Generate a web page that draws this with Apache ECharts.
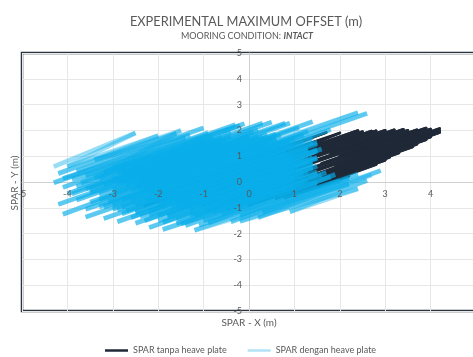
<!DOCTYPE html>
<html lang="en" style="height: 100%">
<head>
  <meta charset="utf-8">
</head>
<body style="height: 100%; margin: 0">
  <div id="container" style="width: 473px; height: 357px"></div>

  <script type="text/javascript" src="https://cdn.jsdelivr.net/npm/echarts@6/dist/echarts.min.js"></script>
  <script type="text/javascript">
    // tick labels on both axes
    var xTicks = [-5, -4, -3, -2, -1, 0, 1, 2, 3, 4, 5];
    var yTicks = [-5, -4, -3, -2, -1, 0, 1, 2, 3, 4, 5];

    var seriesNames = ['SPAR tanpa heave plate', 'SPAR dengan heave plate'];

    // SPAR tanpa heave plate, trajectory (x, y) in m
    var tanpaPath = [
      [-1.5, 0.0], [1.7, 1.92],
      [-2.0, -0.5], [2.0, 1.9],
      [0.8, 1.03], [2.4, 1.99],
      [-2.3, -0.93], [2.5, 1.95],
      [1.0, 0.95], [2.7, 1.97],
      [-1.3, -0.48], [2.8, 1.98],
      [1.5, 1.1], [3.0, 2.0],
      [-0.9, -0.44], [3.2, 2.02],
      [1.8, 1.08], [3.4, 2.04],
      [1.3, 0.73], [3.4, 1.99],
      [-1.2, -0.82], [3.5, 2.0],
      [2.0, 1.0], [3.7, 2.02],
      [1.6, 0.71], [3.9, 2.09],
      [-1.0, -0.9], [3.8, 1.98],
      [2.2, 0.97], [4.0, 2.05],
      [-0.6, -0.81], [4.2, 2.07],
      [2.4, 0.94], [4.15, 1.99],
      [1.9, 0.59], [4.2, 1.97],
      [0.0, -0.6], [4.2, 1.92],
      [2.6, 0.91], [4.0, 1.75],
      [1.5, 0.2], [3.9, 1.64],
      [0.2, -0.63], [3.7, 1.47],
      [2.4, 0.64], [3.6, 1.36],
      [1.2, -0.13], [3.3, 1.13],
      [0.0, -0.9], [3.1, 0.96],
      [2.0, 0.25], [3.0, 0.85],
      [0.6, -0.64], [2.8, 0.68],
      [0.8, -0.62], [2.2, 0.22]
    ];

    // SPAR dengan heave plate, trajectory (x, y) in m
    var denganPath = [
      [-4.3, 0.6], [-2.5, 1.9],
      [-4.0, 0.6], [-2.0, 1.8],
      [-4.2, 0.33], [-1.6, 1.89],
      [-3.8, 0.42], [-1.0, 2.1],
      [-4.3, -0.03], [-1.4, 1.71],
      [-3.6, 0.24], [-0.3, 2.22],
      [-4.1, -0.21], [-0.8, 1.77],
      [-3.3, 0.12], [0.3, 2.28],
      [-4.0, -0.45], [-0.5, 1.65],
      [-3.5, -0.3], [0.8, 2.28],
      [-4.2, -0.87], [0.2, 1.77],
      [-3.0, -0.3], [1.4, 2.34],
      [-4.1, -1.25], [0.5, 1.65],
      [-2.6, -0.31], [2.4, 2.69],
      [-3.6, -1.06], [1.2, 1.82],
      [-1.5, 0.2], [2.6, 2.66],
      [-3.2, -0.97], [1.8, 2.03],
      [-3.6, -1.36], [1.0, 1.4],
      [-2.9, -1.09], [1.5, 1.55],
      [-3.2, -1.42], [1.3, 1.28],
      [-2.5, -1.15], [1.5, 1.25],
      [-2.9, -1.54], [1.1, 0.86],
      [-2.2, -1.27], [1.5, 0.95],
      [-2.5, -1.6], [1.4, 0.74],
      [-1.8, -1.33], [1.4, 0.59],
      [-2.2, -1.77], [1.2, 0.27],
      [-1.6, -1.61], [1.7, 0.37],
      [-1.4, -1.69], [1.9, 0.29],
      [-0.9, -1.59], [2.4, 0.3],
      [-0.4, -1.54], [2.9, 0.44],
      [0.2, -1.38], [2.6, 0.06],
      [0.9, -1.16], [2.4, -0.26],
      [-0.2, -1.52], [2.2, -0.08],
      [-1.2, -1.87], [2.0, 0.05],
      [-1.0, -1.5], [1.5, 0.0],
      [-1.9, -1.84], [1.6, 0.26],
      [-1.3, -1.28], [1.5, 0.4],
      [-2.0, -1.5], [1.2, 0.42],
      [-1.5, -1.0], [1.4, 0.74],
      [-2.4, -1.34], [1.3, 0.88],
      [-2.0, -0.9], [1.5, 1.2],
      [-2.7, -1.12], [0.9, 1.04],
      [-2.3, -0.68], [1.4, 1.54],
      [-3.0, -0.9], [0.7, 1.32],
      [-2.4, -0.34], [1.0, 1.7],
      [-3.3, -0.68], [0.3, 1.48],
      [-2.7, -0.12], [0.6, 1.86],
      [-3.5, -0.4], [-0.2, 1.58],
      [-3.0, 0.1], [0.2, 2.02],
      [-3.8, -0.18], [-0.6, 1.74],
      [-3.2, 0.38], [-0.2, 2.18],
      [-4.1, 0.14], [-1.3, 1.82],
      [-3.4, 0.86], [-1.5, 2.0],
      [-3.4, 0.16], [-1.0, 1.6],
      [-2.8, 0.32], [-0.4, 1.76],
      [-3.2, -0.12], [0.0, 1.8],
      [-2.6, 0.04], [0.4, 1.84],
      [-3.0, -0.4], [0.7, 1.82],
      [-2.3, -0.18], [0.4, 1.44],
      [-2.8, -0.68], [0.9, 1.54],
      [-2.0, -0.4], [1.2, 1.52],
      [-2.5, -0.9], [0.8, 1.08],
      [-1.8, -0.68], [1.3, 1.18],
      [-2.2, -1.12], [1.0, 0.8],
      [-1.4, -0.84], [1.3, 0.78],
      [-1.8, -1.28], [0.9, 0.34],
      [-0.9, -0.94], [1.3, 0.38],
      [-1.2, -1.32], [0.9, -0.06],
      [-0.5, -1.1], [1.0, -0.2],
      [-0.8, -1.18], [1.2, 0.02],
      [-1.6, -1.46], [1.0, 0.1],
      [-1.0, -0.9], [1.4, 0.54],
      [-2.0, -1.3], [1.1, 0.56],
      [-1.6, -0.86], [1.4, 0.94],
      [-2.5, -1.2], [1.0, 0.9],
      [-2.0, -0.7], [1.3, 1.28],
      [-2.8, -0.98], [0.6, 1.06],
      [-2.2, -0.42], [1.0, 1.5],
      [-3.1, -0.76], [0.2, 1.22],
      [-2.5, -0.2], [0.6, 1.66],
      [-3.3, -0.48], [-0.2, 1.38],
      [-2.8, 0.02], [0.0, 1.7],
      [-3.6, -0.26], [-0.6, 1.54],
      [-2.9, 0.36], [-0.8, 1.62],
      [-3.9, 0.11], [-0.9, 1.91],
      [-3.0, 0.52], [-0.1, 2.26],
      [-3.7, -0.04], [-0.4, 1.94],
      [-2.5, 0.52], [0.5, 2.32],
      [-3.9, -0.46], [0.1, 1.94],
      [-2.9, 0.0], [0.9, 2.28],
      [-3.8, -0.7], [0.3, 1.76],
      [-2.4, 0.01], [1.1, 2.11],
      [-3.5, -0.78], [0.6, 1.68],
      [-2.1, -0.08], [1.3, 1.96],
      [-3.3, -0.96], [0.5, 1.32],
      [-2.6, -0.68], [1.4, 1.72],
      [-3.0, -1.06], [0.8, 1.22],
      [-2.2, -0.74], [1.5, 1.48],
      [-2.8, -1.23], [1.0, 1.05],
      [-1.9, -0.82], [1.6, 1.28],
      [-2.6, -1.38], [1.2, 0.9],
      [-1.7, -1.0], [1.5, 0.92],
      [-2.3, -1.5], [1.0, 0.48],
      [-1.3, -1.06], [1.5, 0.62],
      [-1.9, -1.56], [1.1, 0.24],
      [-0.9, -1.12], [1.5, 0.32],
      [-1.5, -1.62], [1.3, 0.06],
      [-0.6, -1.24], [1.8, 0.2],
      [-1.1, -1.68], [1.5, -0.12],
      [-0.2, -1.3], [2.2, 0.14],
      [0.3, -1.17], [2.7, 0.27]
    ];

    // every step of the path becomes its own segment, so overlaps build up colour
    function toSegments(path) {
      var segs = [];
      for (var i = 1; i < path.length; i++) {
        segs.push({ coords: [path[i - 1], path[i]] });
      }
      return segs;
    }

    var dom = document.getElementById('container');
    var myChart = echarts.init(dom, null, { renderer: 'canvas' });

    var labelColor = '#595959';
    var font = 'Lato, "Open Sans", sans-serif';
    var darkColor = '#1f2937';
    var lightColor = '#0aaeea';
    var lightKey = '#b3e2f6';

    // one axis pair draws the grid lines under the marks, a twin pair draws the labels on top
    function xAxisOf(forLabels) {
      return {
        type: 'value',
        min: xTicks[0], max: xTicks[xTicks.length - 1], interval: 1,
        position: 'bottom',
        offset: -129,
        z: forLabels ? 10 : 0,
        axisLine: { show: !forLabels, onZero: false, lineStyle: { color: '#d0d0d0', width: 1 } },
        axisTick: { show: false },
        axisLabel: { show: forLabels, margin: 8, fontFamily: font, fontSize: 9, color: labelColor },
        splitLine: { show: !forLabels, lineStyle: { color: '#e7e7e7' } }
      };
    }
    function yAxisOf(forLabels) {
      return {
        type: 'value',
        min: yTicks[0], max: yTicks[yTicks.length - 1], interval: 1,
        position: 'left',
        offset: -227,
        z: forLabels ? 10 : 0,
        axisLine: { show: !forLabels, onZero: false, lineStyle: { color: '#d0d0d0', width: 1 } },
        axisTick: { show: false },
        axisLabel: { show: forLabels, margin: 7, fontFamily: font, fontSize: 9, color: labelColor },
        splitLine: { show: !forLabels, lineStyle: { color: '#e7e7e7' } }
      };
    }

    var option = {
      animation: false,
      title: [
        {
          text: 'EXPERIMENTAL MAXIMUM OFFSET (m)',
          left: 241, top: 10, textAlign: 'center',
          textStyle: { fontFamily: font, fontSize: 12.8, fontWeight: 'normal', color: labelColor }
        },
        {
          text: '{a|MOORING CONDITION: }{b|INTACT}',
          left: 242, top: 27, textAlign: 'center',
          textStyle: {
            fontWeight: 'normal',
            rich: {
              a: { fontFamily: font, fontSize: 9, color: labelColor, fontWeight: 'normal' },
              b: { fontFamily: font, fontSize: 9, color: labelColor, fontWeight: 'bold', fontStyle: 'italic' }
            }
          }
        }
      ],
      graphic: [
        {
          type: 'text', x: 249, y: 323,
          style: { text: 'SPAR - X (m)', fill: labelColor, font: '10px ' + font, align: 'center', verticalAlign: 'middle' }
        },
        {
          type: 'text', x: 15, y: 183, rotation: Math.PI / 2,
          style: { text: 'SPAR - Y (m)', fill: labelColor, font: '10px ' + font, align: 'center', verticalAlign: 'middle' }
        }
      ],
      legend: {
        left: 105, top: 346,
        itemWidth: 23, itemHeight: 2.5, itemGap: 21,
        padding: 0,
        textStyle: { fontFamily: font, fontSize: 9, color: labelColor },
        data: [
          {
            name: seriesNames[0], icon: 'rect',
            itemStyle: { color: darkColor, borderColor: darkColor, borderWidth: 0, opacity: 1 }
          },
          {
            name: seriesNames[1], icon: 'rect',
            itemStyle: { color: lightKey, borderColor: lightKey, borderWidth: 0, opacity: 1 }
          }
        ]
      },
      grid: {
        show: true,
        left: 22, top: 53, width: 454, height: 258,
        borderColor: '#2a3441', borderWidth: 2.5,
        containLabel: false,
        outerBoundsMode: 'none'
      },
      xAxis: [xAxisOf(false), xAxisOf(true)],
      yAxis: [yAxisOf(false), yAxisOf(true)],
      series: [
        {
          name: seriesNames[0],
          type: 'lines',
          coordinateSystem: 'cartesian2d',
          polyline: false,
          lineStyle: { color: darkColor, width: 2.8, opacity: 1, cap: 'round' },
          itemStyle: { color: darkColor },
          data: toSegments(tanpaPath)
        },
        {
          name: seriesNames[1],
          type: 'lines',
          coordinateSystem: 'cartesian2d',
          polyline: false,
          lineStyle: { color: lightColor, width: 4.6, opacity: 0.42 },
          itemStyle: { color: lightKey },
          data: toSegments(denganPath)
        }
      ]
    };

    myChart.setOption(option);
    window.addEventListener('resize', myChart.resize);
  </script>
</body>
</html>
